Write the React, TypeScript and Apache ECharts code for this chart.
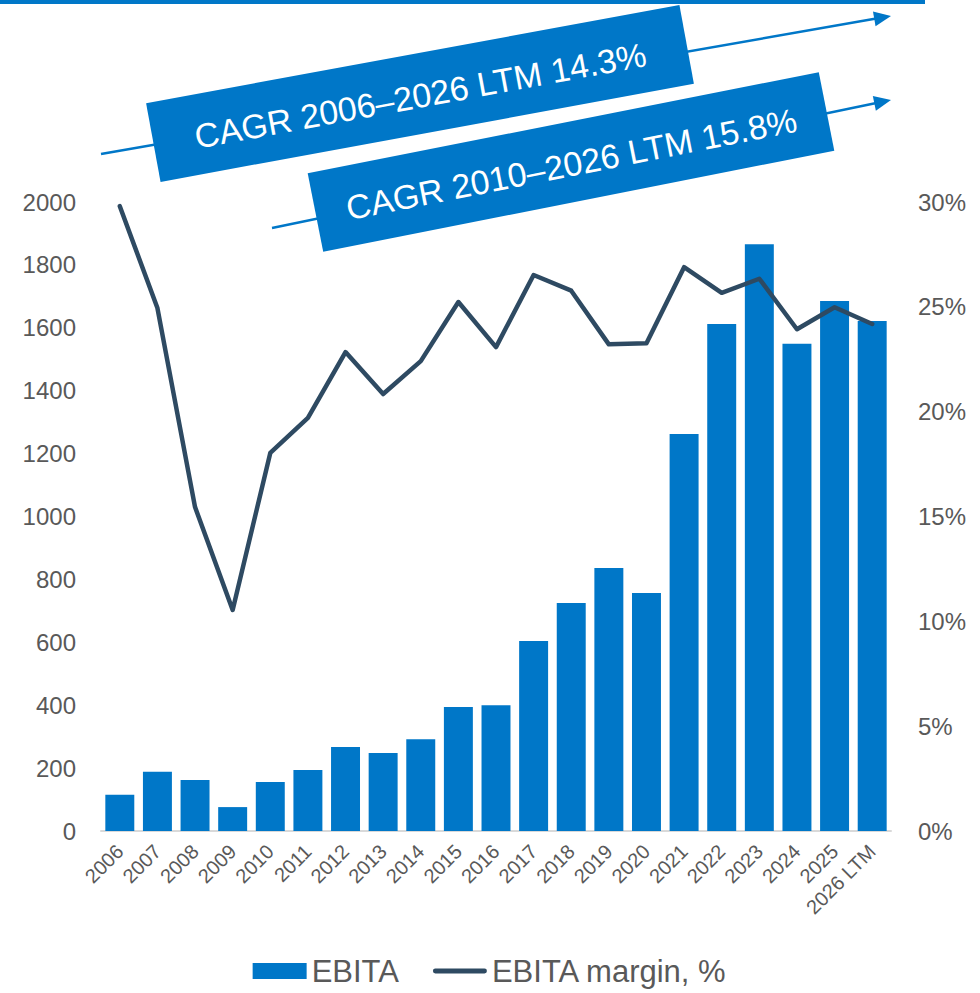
import React, { useEffect, useRef } from "react";
import * as echarts from "echarts";

const categories = ["2006", "2007", "2008", "2009", "2010", "2011", "2012", "2013", "2014", "2015", "2016", "2017", "2018", "2019", "2020", "2021", "2022", "2023", "2024", "2025", "2026 LTM"];
const ebita = [115, 188, 162, 76, 156, 194, 267, 248, 292, 394, 400, 604, 725, 836, 757, 1262, 1612, 1866, 1549, 1685, 1622];
const ebitaMargin = [29.8, 24.94, 15.45, 10.54, 18.03, 19.7, 22.84, 20.84, 22.41, 25.23, 23.08, 26.52, 25.77, 23.21, 23.26, 26.89, 25.67, 26.34, 23.93, 24.98, 24.18];
const cagrLabels = ["CAGR 2006\u20132026 LTM 14.3%", "CAGR 2010\u20132026 LTM 15.8%"];
const seriesNames = ["EBITA", "EBITA margin, %"];

const BLUE = "#0077C8";
const DARK = "#2E4A62";
const GRAY = "#595959";
const FONT = "'Liberation Sans', Arial, sans-serif";

const LINE_ICON = "path://M0,0 M56,16 M2.5,5.5 L53.5,5.5 A2.5,2.5 0 0 1 53.5,10.5 L2.5,10.5 A2.5,2.5 0 0 1 2.5,5.5 Z";

function arrow(x1: number, y1: number, x2: number, y2: number) {
  const ang = Math.atan2(y2 - y1, x2 - x1);
  const len = 17;
  const half = 7.5;
  const bx = x2 - len * Math.cos(ang);
  const by = y2 - len * Math.sin(ang);
  const px = -Math.sin(ang);
  const py = Math.cos(ang);
  return [
    {
      type: "line",
      shape: { x1, y1, x2: bx + 2 * Math.cos(ang), y2: by + 2 * Math.sin(ang) },
      style: { stroke: BLUE, lineWidth: 2.5 },
      silent: true,
    },
    {
      type: "polygon",
      shape: {
        points: [
          [x2, y2],
          [bx + px * half, by + py * half],
          [bx - px * half, by - py * half],
        ],
      },
      style: { fill: BLUE },
      silent: true,
    },
  ];
}

function box(cx: number, cy: number, w: number, h: number, deg: number, text: string) {
  return {
    type: "group",
    x: cx,
    y: cy,
    rotation: (deg * Math.PI) / 180,
    silent: true,
    children: [
      { type: "rect", shape: { x: -w / 2, y: -h / 2, width: w, height: h }, style: { fill: BLUE } },
      {
        type: "text",
        x: 0,
        y: 2,
        style: { text, fill: "#ffffff", font: `34px ${FONT}`, align: "center", verticalAlign: "middle" },
      },
    ],
  };
}

export default function App() {
  const ref = useRef<HTMLDivElement>(null);
  useEffect(() => {
    if (!ref.current) return;
    const chart = echarts.init(ref.current, undefined, { renderer: "svg" });
    chart.setOption({
      animation: false,
      backgroundColor: "#ffffff",
      textStyle: { fontFamily: FONT },
      grid: { left: 101, right: 89, top: 202, bottom: 162, containLabel: false },
      legend: {
        data: [
          { name: seriesNames[0], icon: "rect" },
          { name: seriesNames[1], icon: LINE_ICON, itemStyle: { color: DARK, borderWidth: 0 } },
        ],
        top: 953,
        left: "center",
        itemWidth: 54,
        itemHeight: 16,
        itemGap: 34,
        padding: [0, 5, 0, 5],
        textStyle: { fontSize: 31, lineHeight: 36, color: GRAY, fontFamily: FONT },
      },
      xAxis: {
        type: "category",
        data: categories,
        axisLine: { lineStyle: { color: "#D9D9D9", width: 2 } },
        axisTick: { show: false },
        axisLabel: { rotate: 45, fontSize: 20, color: GRAY, margin: 17, interval: 0, fontFamily: FONT },
      },
      yAxis: [
        {
          type: "value",
          min: 0,
          max: 2000,
          interval: 200,
          axisLine: { show: false },
          axisTick: { show: false },
          splitLine: { show: false },
          axisLabel: { fontSize: 24, color: GRAY, margin: 25, fontFamily: FONT, formatter: (v: number) => String(v) },
        },
        {
          type: "value",
          min: 0,
          max: 30,
          interval: 5,
          position: "right",
          axisLine: { show: false },
          axisTick: { show: false },
          splitLine: { show: false },
          axisLabel: { fontSize: 24, color: GRAY, margin: 27, formatter: "{value}%", fontFamily: FONT },
        },
      ],
      series: [
        {
          name: seriesNames[0],
          type: "bar",
          data: ebita,
          barWidth: "77%",
          itemStyle: { color: BLUE },
          z: 2,
        },
        {
          name: seriesNames[1],
          type: "line",
          yAxisIndex: 1,
          data: ebitaMargin,
          symbol: "none",
          lineStyle: { color: DARK, width: 4.5, cap: "round", join: "round" },
          itemStyle: { color: DARK },
          z: 3,
        },
      ],
      graphic: [
        { type: "rect", shape: { x: 0, y: 0, width: 925, height: 4 }, style: { fill: BLUE }, silent: true },
        ...arrow(101, 154, 891, 16),
        ...arrow(272, 228, 891, 100),
        box(420, 93.5, 542, 80, 10.4, cagrLabels[0]),
        box(571, 162, 521, 80, 11.2, cagrLabels[1]),
      ],
    });
    return () => chart.dispose();
  }, []);
  return (
    <div
      ref={ref}
      style={{ position: "absolute", left: 0, top: 0, width: 980, height: 993 }}
    />
  );
}
